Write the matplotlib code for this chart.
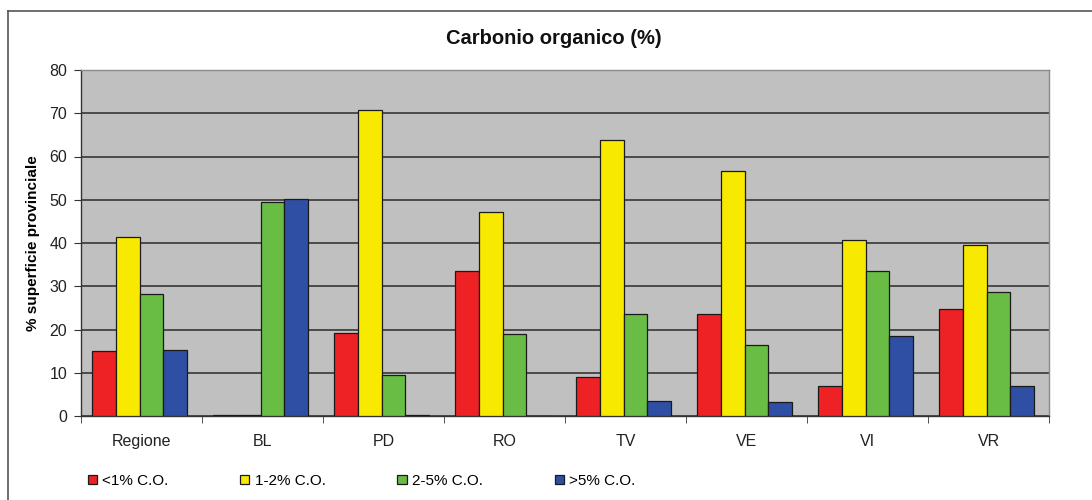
import matplotlib.pyplot as plt
import numpy as np
from matplotlib.lines import Line2D

plt.rcParams['font.family'] = ['Liberation Sans', 'DejaVu Sans']

categories = ['Regione', 'BL', 'PD', 'RO', 'TV', 'VE', 'VI', 'VR']
series_names = ['<1% C.O.', '1-2% C.O.', '2-5% C.O.', '>5% C.O.']
lt1 = [15.0, 0.2, 19.3, 33.5, 9.1, 23.6, 7.0, 24.7]
from1to2 = [41.5, 0.2, 70.8, 47.1, 63.7, 56.7, 40.6, 39.6]
from2to5 = [28.3, 49.4, 9.4, 19.0, 23.6, 16.4, 33.5, 28.6]
gt5 = [15.3, 50.2, 0.2, 0.0, 3.4, 3.2, 18.5, 7.0]
colors = ['#ee2125', '#f7ea00', '#69bd45', '#2e4fa3']

fig = plt.figure(figsize=(10.92, 5), dpi=100)
ax = fig.add_axes([81 / 1092, 84 / 500, 968 / 1092, 346 / 500])
ax.set_facecolor('#c0c0c0')

x = np.arange(len(categories))
w = 0.195
for i, (vals, c) in enumerate(zip([lt1, from1to2, from2to5, gt5], colors)):
    ax.bar(x + (i - 1.5) * w - 0.015, vals, w, color=c, edgecolor='#1a1a1a',
           linewidth=0.9, zorder=3, label=series_names[i])

ax.set_xlim(-0.5, len(categories) - 0.5)
ax.set_ylim(0, 80)
ax.set_yticks(range(0, 81, 10))
ax.yaxis.grid(True, color='#2a2a2a', linewidth=1.1, zorder=1)
ax.set_axisbelow(True)

ax.set_xticks(x)
ax.set_xticklabels(categories)
ax.set_xticks(np.arange(-0.5, len(categories), 1), minor=True)
ax.tick_params(axis='x', which='major', length=0, pad=13, labelsize=11.5, labelcolor='#222222')
ax.tick_params(axis='x', which='minor', length=5, direction='out', color='#333333')
ax.tick_params(axis='y', length=5, direction='out', pad=5, labelsize=11.5, labelcolor='#222222', color='#333333')

for s in ['left', 'bottom']:
    ax.spines[s].set_color('#333333')
    ax.spines[s].set_linewidth(1.0)
for s in ['top', 'right']:
    ax.spines[s].set_color('#8a8a8a')
    ax.spines[s].set_linewidth(1.0)

ax.set_ylabel('% superficie provinciale', fontsize=11, fontweight='bold', labelpad=7)
fig.text(0.507, 0.924, 'Carbonio organico (%)', ha='center', va='center',
         fontsize=14.5, fontweight='bold', color='#111111')

fig.legend(loc='center left', bbox_to_anchor=(80 / 1092, 19 / 500), ncol=4,
           frameon=False, fontsize=11, handlelength=0.6, handleheight=0.6,
           handletextpad=0.35, columnspacing=4.7, borderpad=0)

# outer frame
fig.add_artist(Line2D([8 / 1092, 1.0], [1 - 11 / 500, 1 - 11 / 500],
                      transform=fig.transFigure, color='#555555', linewidth=1.2))
fig.add_artist(Line2D([8 / 1092, 8 / 1092], [0.0, 1 - 11 / 500],
                      transform=fig.transFigure, color='#555555', linewidth=1.2))

fig.savefig('out.png', dpi=100)
